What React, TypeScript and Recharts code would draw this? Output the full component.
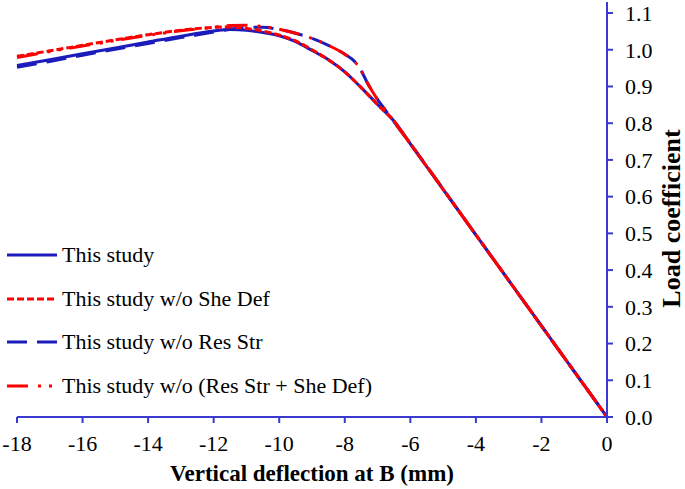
import { LineChart, Line, XAxis, YAxis } from "recharts";

const BLUE = "#1c1cbc";
const RED = "#ff0000";
const AXIS = "#3a3ad0";
const FONT = "Liberation Serif, DejaVu Serif, serif";

// deflection (mm) / load coefficient
const defStudy = [-18, -17, -16, -15, -14, -13, -12, -11.5, -11, -10.5, -10, -9.5, -9, -8.5, -8, -7.5, -7, -6.5, -6, -4, -2, 0];
const loadStudy = [0.957, 0.973, 0.989, 1.005, 1.021, 1.037, 1.051, 1.055, 1.053, 1.047, 1.038, 1.022, 0.998, 0.973, 0.94, 0.897, 0.851, 0.806, 0.744, 0.496, 0.248, 0];

const defNoShe = [-18, -17, -16, -15, -14, -13, -12, -11.5, -11, -10.5, -10, -9.5, -9, -8.5, -8, -7.5, -7, -6.5, -6, -4, -2, 0];
const loadNoShe = [0.982, 0.997, 1.012, 1.027, 1.041, 1.053, 1.061, 1.062, 1.058, 1.051, 1.04, 1.024, 1.0, 0.973, 0.94, 0.897, 0.851, 0.806, 0.744, 0.496, 0.248, 0];

const defNoRes = [-18, -17, -16, -15, -14, -13, -12, -11.5, -11, -10.5, -10, -9.5, -9, -8.5, -8, -7.7, -7.5, -7.3, -7.1, -6.8, -6.5, -6, -4, -2, 0];
const loadNoRes = [0.952, 0.968, 0.985, 1.001, 1.017, 1.033, 1.048, 1.056, 1.061, 1.061, 1.055, 1.045, 1.031, 1.012, 0.988, 0.968, 0.943, 0.908, 0.878, 0.84, 0.804, 0.744, 0.496, 0.248, 0];

const defNoBoth = [-18, -17, -16, -15, -14, -13, -12, -11.5, -11, -10.5, -10, -9.5, -9, -8.5, -8, -7.7, -7.5, -7.3, -7.1, -6.8, -6.5, -6, -4, -2, 0];
const loadNoBoth = [0.979, 0.995, 1.01, 1.025, 1.039, 1.052, 1.061, 1.066, 1.067, 1.063, 1.056, 1.045, 1.031, 1.012, 0.988, 0.968, 0.943, 0.908, 0.878, 0.84, 0.804, 0.744, 0.496, 0.248, 0];

const xTicks = [-18, -16, -14, -12, -10, -8, -6, -4, -2, 0];
const yTicks = [0, 0.1, 0.2, 0.3, 0.4, 0.5, 0.6, 0.7, 0.8, 0.9, 1.0, 1.1];

const toPoints = (xs: number[], ys: number[]) => xs.map((x, i) => ({ x, y: ys[i] }));

const series = [
  { name: "This study", data: toPoints(defStudy, loadStudy), color: BLUE, dash: undefined },
  { name: "This study w/o She Def", data: toPoints(defNoShe, loadNoShe), color: RED, dash: "7 3" },
  { name: "This study w/o Res Str", data: toPoints(defNoRes, loadNoRes), color: BLUE, dash: "20 10" },
  { name: "This study w/o (Res Str + She Def)", data: toPoints(defNoBoth, loadNoBoth), color: RED, dash: "21 10 3 8 3 8" },
];

// draw order: blues under reds
const drawOrder = [0, 2, 1, 3];

const tickStyle = { fontSize: 22, fill: "#000", fontFamily: FONT };

function LegendBox() {
  return (
    <div style={{ position: "absolute", left: 7, top: 233, fontFamily: FONT, fontSize: 22, color: "#000" }}>
      {series.map((s) => (
        <div key={s.name} style={{ display: "flex", alignItems: "center", height: 43.7 }}>
          <svg width={55} height={10} style={{ display: "block" }}>
            <line x1={0} x2={50} y1={5} y2={5} stroke={s.color} strokeWidth={3} strokeDasharray={s.dash} />
          </svg>
          <span style={{ whiteSpace: "nowrap" }}>{s.name}</span>
        </div>
      ))}
    </div>
  );
}

export default function App() {
  return (
    <div style={{ position: "absolute", left: 0, top: 0, width: 685, height: 489, background: "#fff" }}>
      <LineChart width={685} height={489} margin={{ top: 2, right: 0, left: 17, bottom: 0 }}>
        <XAxis
          type="number"
          dataKey="x"
          domain={[-18, 0]}
          ticks={xTicks}
          allowDuplicatedCategory={false}
          height={72}
          stroke={AXIS}
          strokeWidth={2}
          tickSize={6}
          tickMargin={12}
          tick={tickStyle}
          label={{
            value: "Vertical deflection at B (mm)",
            position: "insideBottom",
            offset: 8,
            style: { fontSize: 23, fontWeight: "bold", fill: "#000", fontFamily: FONT },
          }}
        />
        <YAxis
          type="number"
          orientation="right"
          domain={[0, 1.13]}
          ticks={yTicks}
          width={78}
          stroke={AXIS}
          strokeWidth={2}
          tickSize={6}
          tickMargin={12}
          tick={tickStyle}
          tickFormatter={(v: number) => v.toFixed(1)}
          label={{
            value: "Load coefficient",
            angle: -90,
            position: "center",
            dx: 25,
            dy: 9,
            style: { fontSize: 26, fontWeight: "bold", fill: "#000", fontFamily: FONT, textAnchor: "middle" },
          }}
        />
        {drawOrder.map((i) => {
          const s = series[i];
          return (
            <Line
              key={s.name}
              data={s.data}
              dataKey="y"
              type="monotone"
              stroke={s.color}
              strokeWidth={3}
              strokeDasharray={s.dash}
              dot={false}
              activeDot={false}
              isAnimationActive={false}
            />
          );
        })}
      </LineChart>
      <LegendBox />
    </div>
  );
}
